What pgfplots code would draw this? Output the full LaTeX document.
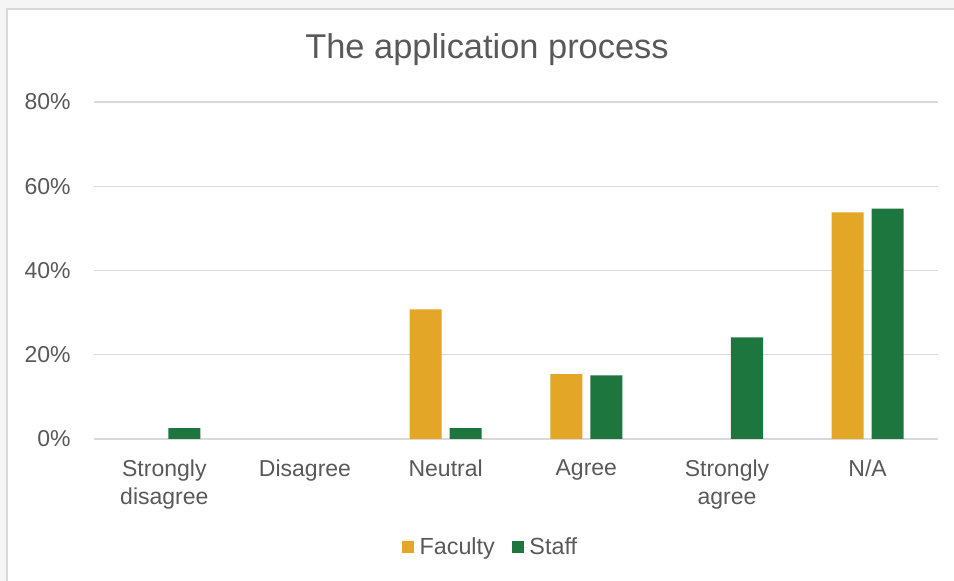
\documentclass[border=0pt]{standalone}
\usepackage{fontspec}
\setmainfont{Liberation Sans}
\usepackage{pgfplots}
\pgfplotsset{compat=1.18}

\definecolor{faculty}{RGB}{227,166,38}
\definecolor{staff}{RGB}{29,118,62}
\definecolor{txt}{RGB}{89,89,89}
\definecolor{gridc}{RGB}{217,217,217}
\definecolor{outer}{RGB}{245,245,245}

\begin{document}
\begin{tikzpicture}[x=0.75pt,y=0.75pt]
% page frame in pixels; the axis box starts at (94,142) from the bottom left
\begin{scope}[shift={(-94,-142)}]
\path[use as bounding box] (0,0) rectangle (954,581);
\fill[outer] (0,0) rectangle (954,581);
\fill[white] (7,0) rectangle (954,572);
\draw[gridc,line width=1.5pt] (7,0) -- (7,572) -- (954,572);
\node[text=txt,font=\fontsize{25.8}{30}\selectfont] at (487,531) {The application process};
\end{scope}

\begin{axis}[
    at={(0,0)}, anchor=south west,
    scale only axis,
    width=633pt, height=252.75pt,
    ybar=6pt, bar width=24pt,
    xmin=-0.5, xmax=5.5,
    ymin=0, ymax=80,
    xtick={0,...,5},
    xticklabels={Strongly\\disagree,Disagree,Neutral,Agree,Strongly\\agree,N/A},
    ytick={0,20,40,60,80},
    yticklabel={\pgfmathprintnumber{\tick}\%},
    /pgf/number format/assume math mode=true,
    axis line style={draw=none},
    major tick length=0pt,
    ymajorgrids,
    major grid style={gridc,line width=1pt},
    tick label style={font=\fontsize{17.25}{21}\selectfont,text=txt},
    xticklabel style={align=center,yshift=-12pt},
    yticklabel style={xshift=-14pt},
    legend style={at={(0.4704,-0.3205)},anchor=center,draw=none,fill=none,
        font=\fontsize{17.5}{21}\selectfont,text=txt,
        /tikz/every even column/.append style={column sep=11pt}},
    legend columns=2,
    legend image code/.code={\fill[#1] (0pt,-4.5pt) rectangle (9pt,4.5pt);
        \path (0pt,0pt) -- (11pt,0pt);},
]
\addplot[fill=faculty,draw=none] coordinates {
    (2,30.8) (3,15.4) (5,53.8)
};
\addplot[fill=staff,draw=none] coordinates {
    (0,2.6) (2,2.6) (3,15.1) (4,24.1) (5,54.7)
};
\legend{Faculty,Staff}
\end{axis}
\end{tikzpicture}
\end{document}
